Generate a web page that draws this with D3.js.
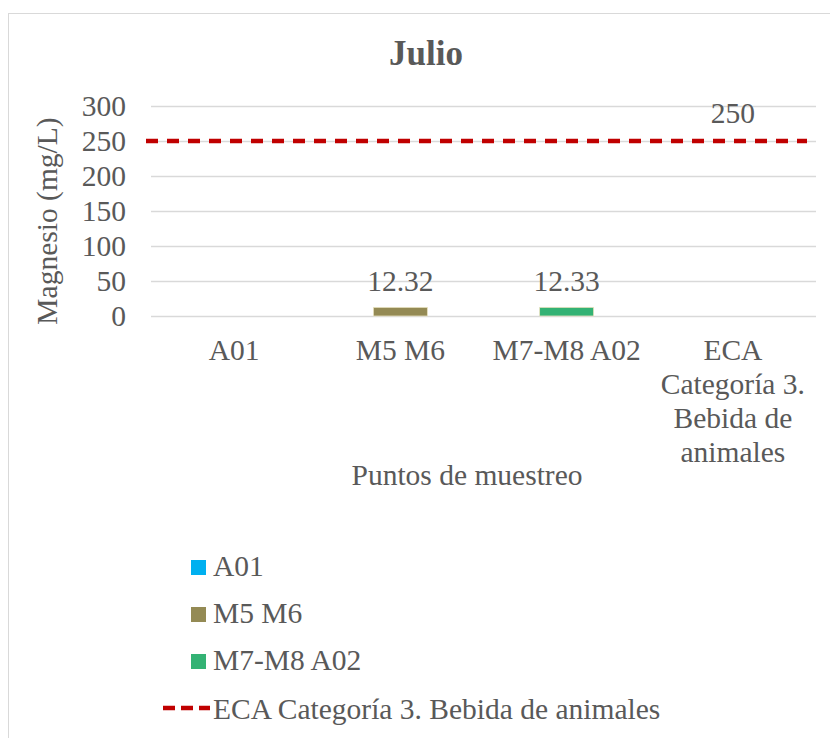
<!DOCTYPE html>
<html>
<head>
<meta charset="utf-8">
<script src="https://cdn.jsdelivr.net/npm/d3@7/dist/d3.min.js"></script>
<style>
  html, body { margin: 0; padding: 0; background: #fff; }
</style>
</head>
<body>
<div id="chart"></div>
<script>
// Magnesio por punto de muestreo, julio
const categories = ["A01", "M5 M6", "M7-M8 A02", "ECA Categoría 3. Bebida de animales"];
const categoryLines = [["A01"], ["M5 M6"], ["M7-M8 A02"], ["ECA", "Categoría 3.", "Bebida de", "animales"]];
const seriesNames = ["A01", "M5 M6", "M7-M8 A02"];
const seriesValues = [null, 12.32, 12.33];
const seriesColors = ["#00B0F0", "#948A54", "#33B274"];
const limitName = "ECA Categoría 3. Bebida de animales";
const limitValue = 250;
const yTicks = [0, 50, 100, 150, 200, 250, 300];

const FONT = "'Liberation Serif', 'Times New Roman', Tinos, serif";
const FS = 29.5;
const W = 830, H = 738;
const svg = d3.select("#chart").append("svg").attr("width", W).attr("height", H)
  .attr("font-family", FONT);

const txt = (sel) => sel.attr("font-family", FONT).attr("fill", "#595959");

// chart frame
svg.append("rect")
  .attr("x", 8.5).attr("y", 13.5).attr("width", W).attr("height", H + 20)
  .attr("fill", "#fff").attr("stroke", "#d9d9d9").attr("stroke-width", 1);

const plot = { left: 151, right: 816, top: 106, bottom: 316 };

const x = d3.scaleBand().domain(categories).range([plot.left, plot.right]).padding(0);
const y = d3.scaleLinear().domain([0, 300]).range([plot.bottom, plot.top]);

// title
svg.append("text").call(txt)
  .attr("x", 426).attr("y", 65)
  .attr("text-anchor", "middle")
  .attr("font-size", 35).attr("font-weight", "bold")
  .text("Julio");

// gridlines
svg.append("g").selectAll("line").data(yTicks).join("line")
  .attr("x1", plot.left).attr("x2", plot.right)
  .attr("y1", d => Math.round(y(d)) + 0.5).attr("y2", d => Math.round(y(d)) + 0.5)
  .attr("stroke", "#d9d9d9").attr("stroke-width", 1.3);

// y tick labels
svg.append("g").selectAll("text").data(yTicks).join("text").call(txt)
  .attr("x", 126).attr("y", d => y(d) + 9.5)
  .attr("text-anchor", "end")
  .attr("font-size", FS)
  .text(d => d);

// y axis title
svg.append("text").call(txt)
  .attr("transform", "translate(57,221) rotate(-90)")
  .attr("text-anchor", "middle")
  .attr("font-size", FS)
  .text("Magnesio (mg/L)");

// category labels
const catG = svg.append("g");
categories.forEach((c, i) => {
  const cx = x(c) + x.bandwidth() / 2;
  const t = catG.append("text").call(txt)
    .attr("x", cx).attr("y", 360)
    .attr("text-anchor", "middle")
    .attr("font-size", FS);
  categoryLines[i].forEach((ln, j) => {
    t.append("tspan").attr("x", cx).attr("y", 360 + j * 34).text(ln);
  });
});

// x axis title
svg.append("text").call(txt)
  .attr("x", 467).attr("y", 485)
  .attr("text-anchor", "middle")
  .attr("font-size", FS)
  .text("Puntos de muestreo");

// bars
const barW = 54;
const barData = seriesNames.map((s, i) => ({ cat: categories[i], value: seriesValues[i], color: seriesColors[i] }))
  .filter(d => d.value != null);
svg.append("g").selectAll("rect").data(barData).join("rect")
  .attr("x", d => x(d.cat) + x.bandwidth() / 2 - barW / 2)
  .attr("width", barW)
  .attr("y", d => y(d.value))
  .attr("height", d => y(0) - y(d.value))
  .attr("fill", d => d.color)
  .attr("stroke", "#e8e2c0").attr("stroke-width", 0.8);

// bar value labels
svg.append("g").selectAll("text").data(barData).join("text").call(txt)
  .attr("x", d => x(d.cat) + x.bandwidth() / 2)
  .attr("y", d => y(d.value) - 16)
  .attr("text-anchor", "middle")
  .attr("font-size", FS)
  .text(d => d.value.toFixed(2));

// limit line
svg.append("line")
  .attr("x1", x.range()[0] - 5).attr("x2", x.range()[1] - 9)
  .attr("y1", y(limitValue)).attr("y2", y(limitValue))
  .attr("stroke", "#C00000").attr("stroke-width", 4.5)
  .attr("stroke-dasharray", "12,9");

svg.append("text").call(txt)
  .attr("x", x(categories[3]) + x.bandwidth() / 2)
  .attr("y", y(limitValue) - 18)
  .attr("text-anchor", "middle")
  .attr("font-size", FS)
  .text(limitValue);

// legend
const legY = [576, 623, 670];
const leg = svg.append("g");
seriesNames.forEach((s, i) => {
  leg.append("rect")
    .attr("x", 191).attr("y", legY[i] - 16).attr("width", 15).attr("height", 15)
    .attr("fill", seriesColors[i]);
  leg.append("text").call(txt)
    .attr("x", 213).attr("y", legY[i])
    .attr("font-size", FS)
    .text(s);
});
leg.append("line")
  .attr("x1", 163).attr("x2", 210).attr("y1", 708).attr("y2", 708)
  .attr("stroke", "#C00000").attr("stroke-width", 4.5)
  .attr("stroke-dasharray", "12,6");
leg.append("text").call(txt)
  .attr("x", 213).attr("y", 719)
  .attr("font-size", FS)
  .text(limitName);
</script>
</body>
</html>
